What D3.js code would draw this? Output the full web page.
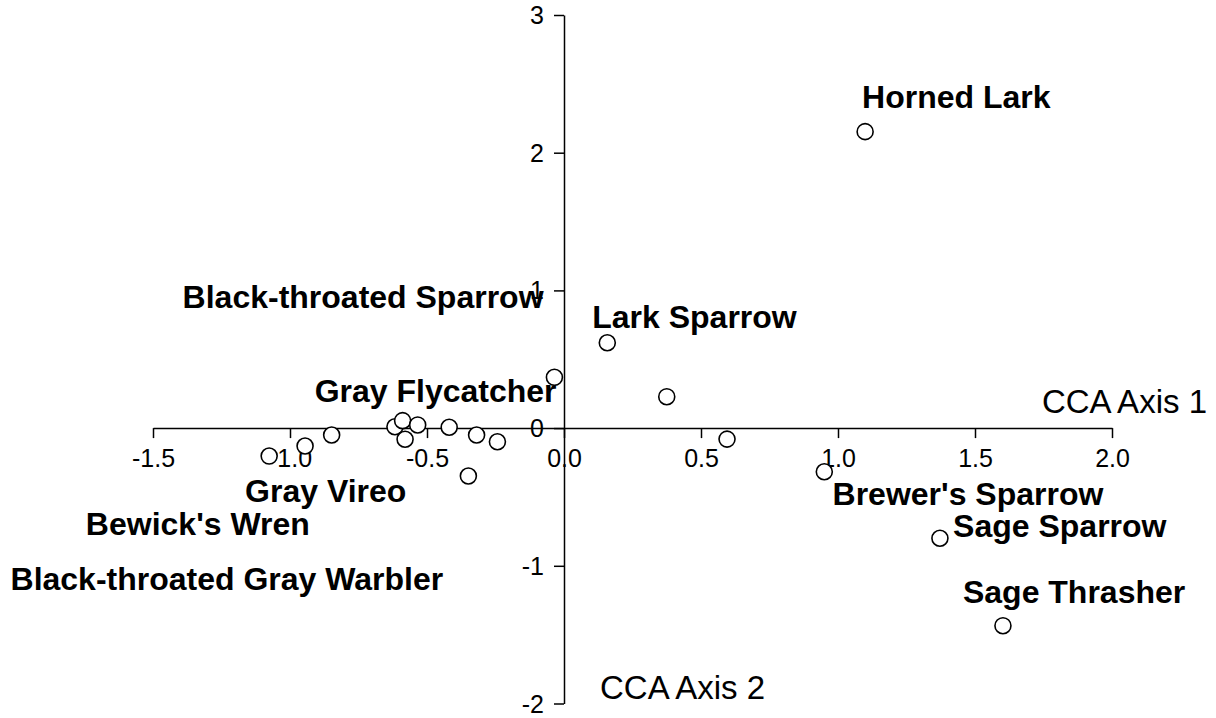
<!DOCTYPE html>
<html><head><meta charset="utf-8">
<script src="https://cdn.jsdelivr.net/npm/d3@7"></script>
<style>body{margin:0;background:#fff}svg{display:block}</style>
</head><body>
<svg id="c" width="1216" height="718"></svg>
<script>
// CCA site scores (axis 1, axis 2)
const axis1 = [1.099, 0.158, -0.035, 0.375, 0.595, 0.950, 1.372, 1.602,
  -1.076, -0.945, -0.848, -0.617, -0.589, -0.580, -0.534, -0.419, -0.319, -0.243, -0.349];
const axis2 = [2.153, 0.620, 0.369, 0.228, -0.080, -0.317, -0.800, -1.435,
  -0.203, -0.130, -0.050, 0.010, 0.054, -0.081, 0.023, 0.006, -0.050, -0.099, -0.348];
// species labels and their anchor positions (data units, text start / baseline)
const labelNames = ["Horned Lark", "Lark Sparrow", "Black-throated Sparrow", "Gray Flycatcher",
  "Gray Vireo", "Bewick's Wren", "Black-throated Gray Warbler", "Brewer's Sparrow", "Sage Sparrow", "Sage Thrasher"];
const labelX = [1.088, 0.103, -1.392, -0.910, -1.164, -1.745, -2.02, 0.980, 1.420, 1.456];
const labelY = [2.322, 0.727, 0.870, 0.192, -0.537, -0.776, -1.176, -0.560, -0.789, -1.27];
const xTicks = [-1.5, -1.0, -0.5, 0.0, 0.5, 1.0, 1.5, 2.0];
const yTicks = [-2, -1, 0, 1, 2, 3];

const svg = d3.select("#c");
const x = d3.scaleLinear().domain([-1.5, 2.0]).range([153, 1112]);
const y = d3.scaleLinear().domain([-2, 3]).range([703.5, 15]);
const FONT = "Arial, 'Liberation Sans', sans-serif";
const hy = f => d => f(d).replace("\u2212", "-");

// X axis at y=0, ticks downward
const gx = svg.append("g").attr("transform", `translate(0,${y(0)})`)
  .call(d3.axisBottom(x).tickValues(xTicks).tickSize(10).tickSizeOuter(0).tickPadding(11)
    .tickFormat(hy(d3.format(".1f"))));
// Y axis at x=0, ticks leftward
const gy = svg.append("g").attr("transform", `translate(${x(0)},0)`)
  .call(d3.axisLeft(y).tickValues(yTicks).tickSize(10).tickSizeOuter(0).tickPadding(10)
    .tickFormat(hy(d3.format("d"))));

[gx, gy].forEach(g => {
  g.select(".domain").attr("stroke", "#000").attr("stroke-width", 1.5);
  g.selectAll(".tick line").attr("stroke", "#000").attr("stroke-width", 1.5);
  g.selectAll(".tick text").attr("fill", "#000")
    .style("font-family", FONT).style("font-size", "25px");
});
gy.selectAll(".tick text").attr("dy", "0.34em");
gx.selectAll(".tick text").attr("dy", "0.71em");

// axis titles
svg.append("text").attr("x", 1207).attr("y", 413).attr("text-anchor", "end").text("CCA Axis 1")
  .style("font-family", FONT).style("font-size", "33px");
svg.append("text").attr("x", 600).attr("y", 699).text("CCA Axis 2")
  .style("font-family", FONT).style("font-size", "33px");

// points
svg.append("g").selectAll("circle").data(d3.range(axis1.length)).join("circle")
  .attr("cx", i => x(axis1[i])).attr("cy", i => y(axis2[i])).attr("r", 8)
  .attr("fill", "#fff").attr("stroke", "#000").attr("stroke-width", 1.6);

// labels
svg.append("g").selectAll("text").data(d3.range(labelNames.length)).join("text")
  .attr("x", i => x(labelX[i])).attr("y", i => y(labelY[i]))
  .text(i => labelNames[i])
  .style("font-family", FONT).style("font-weight", "bold")
  .style("font-size", "32px").attr("fill", "#000");
</script>
</body></html>
